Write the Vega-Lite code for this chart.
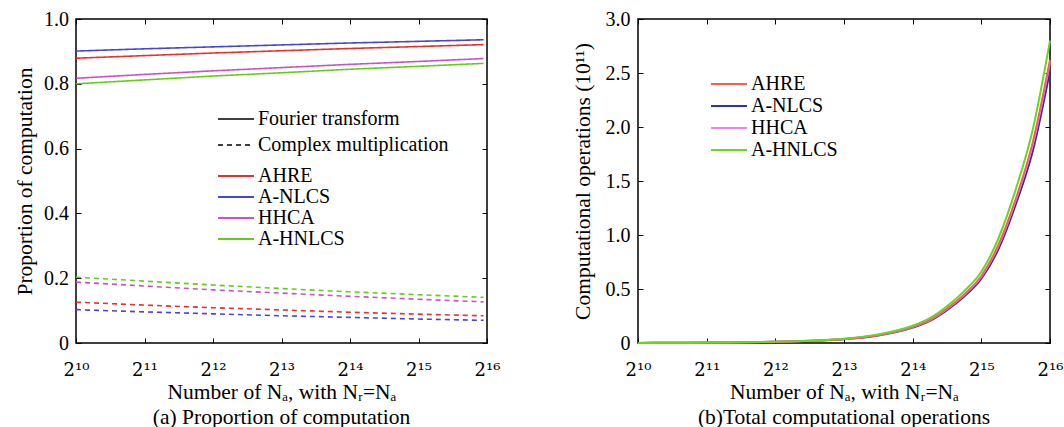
{
  "$schema": "https://vega.github.io/schema/vega-lite/v6.json",
  "padding": {"left": 13, "top": 8, "right": 0, "bottom": 0},
  "config": {
    "font": "Liberation Serif",
    "view": {"stroke": "black", "strokeWidth": 1.5},
    "axis": {"grid": false, "domain": false, "tickColor": "black", "tickSize": -5, "tickWidth": 1, "labelFontSize": 20, "labelColor": "black", "titleFontSize": 21.5, "titleFontWeight": "normal", "titleColor": "black", "labelFont": "Liberation Serif", "titleFont": "Liberation Serif", "labelOverlap": false},
    "legend": {"labelFont": "Liberation Serif", "labelFontSize": 20, "labelColor": "black", "symbolType": "M-1,0H3", "symbolSize": 324, "symbolStrokeWidth": 2, "labelOffset": 21, "padding": 0, "labelLimit": 400},
    "title": {"font": "Liberation Serif", "fontSize": 21.5, "fontWeight": "normal", "color": "black"}
  },
  "datasets": {
    "prop": [
      {"e": 10, "method": "AHRE", "part": "Fourier transform", "p": 0.879},
      {"e": 11, "method": "AHRE", "part": "Fourier transform", "p": 0.887},
      {"e": 12, "method": "AHRE", "part": "Fourier transform", "p": 0.895},
      {"e": 13, "method": "AHRE", "part": "Fourier transform", "p": 0.902},
      {"e": 14, "method": "AHRE", "part": "Fourier transform", "p": 0.909},
      {"e": 15, "method": "AHRE", "part": "Fourier transform", "p": 0.915},
      {"e": 15.95, "method": "AHRE", "part": "Fourier transform", "p": 0.921},
      {"e": 10, "method": "A-NLCS", "part": "Fourier transform", "p": 0.901},
      {"e": 11, "method": "A-NLCS", "part": "Fourier transform", "p": 0.908},
      {"e": 12, "method": "A-NLCS", "part": "Fourier transform", "p": 0.914},
      {"e": 13, "method": "A-NLCS", "part": "Fourier transform", "p": 0.920},
      {"e": 14, "method": "A-NLCS", "part": "Fourier transform", "p": 0.926},
      {"e": 15, "method": "A-NLCS", "part": "Fourier transform", "p": 0.931},
      {"e": 15.95, "method": "A-NLCS", "part": "Fourier transform", "p": 0.936},
      {"e": 10, "method": "HHCA", "part": "Fourier transform", "p": 0.817},
      {"e": 11, "method": "HHCA", "part": "Fourier transform", "p": 0.829},
      {"e": 12, "method": "HHCA", "part": "Fourier transform", "p": 0.840},
      {"e": 13, "method": "HHCA", "part": "Fourier transform", "p": 0.850},
      {"e": 14, "method": "HHCA", "part": "Fourier transform", "p": 0.860},
      {"e": 15, "method": "HHCA", "part": "Fourier transform", "p": 0.869},
      {"e": 15.95, "method": "HHCA", "part": "Fourier transform", "p": 0.878},
      {"e": 10, "method": "A-HNLCS", "part": "Fourier transform", "p": 0.800},
      {"e": 11, "method": "A-HNLCS", "part": "Fourier transform", "p": 0.812},
      {"e": 12, "method": "A-HNLCS", "part": "Fourier transform", "p": 0.824},
      {"e": 13, "method": "A-HNLCS", "part": "Fourier transform", "p": 0.834},
      {"e": 14, "method": "A-HNLCS", "part": "Fourier transform", "p": 0.845},
      {"e": 15, "method": "A-HNLCS", "part": "Fourier transform", "p": 0.854},
      {"e": 15.95, "method": "A-HNLCS", "part": "Fourier transform", "p": 0.863},
      {"e": 10, "method": "AHRE", "part": "Complex multiplication", "p": 0.126},
      {"e": 11, "method": "AHRE", "part": "Complex multiplication", "p": 0.117},
      {"e": 12, "method": "AHRE", "part": "Complex multiplication", "p": 0.109},
      {"e": 13, "method": "AHRE", "part": "Complex multiplication", "p": 0.102},
      {"e": 14, "method": "AHRE", "part": "Complex multiplication", "p": 0.095},
      {"e": 15, "method": "AHRE", "part": "Complex multiplication", "p": 0.089},
      {"e": 15.95, "method": "AHRE", "part": "Complex multiplication", "p": 0.084},
      {"e": 10, "method": "A-NLCS", "part": "Complex multiplication", "p": 0.103},
      {"e": 11, "method": "A-NLCS", "part": "Complex multiplication", "p": 0.096},
      {"e": 12, "method": "A-NLCS", "part": "Complex multiplication", "p": 0.090},
      {"e": 13, "method": "A-NLCS", "part": "Complex multiplication", "p": 0.084},
      {"e": 14, "method": "A-NLCS", "part": "Complex multiplication", "p": 0.079},
      {"e": 15, "method": "A-NLCS", "part": "Complex multiplication", "p": 0.074},
      {"e": 15.95, "method": "A-NLCS", "part": "Complex multiplication", "p": 0.070},
      {"e": 10, "method": "HHCA", "part": "Complex multiplication", "p": 0.188},
      {"e": 11, "method": "HHCA", "part": "Complex multiplication", "p": 0.176},
      {"e": 12, "method": "HHCA", "part": "Complex multiplication", "p": 0.164},
      {"e": 13, "method": "HHCA", "part": "Complex multiplication", "p": 0.154},
      {"e": 14, "method": "HHCA", "part": "Complex multiplication", "p": 0.144},
      {"e": 15, "method": "HHCA", "part": "Complex multiplication", "p": 0.135},
      {"e": 15.95, "method": "HHCA", "part": "Complex multiplication", "p": 0.127},
      {"e": 10, "method": "A-HNLCS", "part": "Complex multiplication", "p": 0.203},
      {"e": 11, "method": "A-HNLCS", "part": "Complex multiplication", "p": 0.191},
      {"e": 12, "method": "A-HNLCS", "part": "Complex multiplication", "p": 0.179},
      {"e": 13, "method": "A-HNLCS", "part": "Complex multiplication", "p": 0.168},
      {"e": 14, "method": "A-HNLCS", "part": "Complex multiplication", "p": 0.158},
      {"e": 15, "method": "A-HNLCS", "part": "Complex multiplication", "p": 0.149},
      {"e": 15.95, "method": "A-HNLCS", "part": "Complex multiplication", "p": 0.141}
    ],
    "ops": [
      {"e": 10, "method": "A-NLCS", "v": 0.001}, {"e": 10.5, "method": "A-NLCS", "v": 0.002}, {"e": 11, "method": "A-NLCS", "v": 0.003}, {"e": 11.5, "method": "A-NLCS", "v": 0.006}, {"e": 12, "method": "A-NLCS", "v": 0.011}, {"e": 12.5, "method": "A-NLCS", "v": 0.019}, {"e": 13, "method": "A-NLCS", "v": 0.035}, {"e": 13.5, "method": "A-NLCS", "v": 0.07}, {"e": 14, "method": "A-NLCS", "v": 0.143}, {"e": 14.25, "method": "A-NLCS", "v": 0.205}, {"e": 14.5, "method": "A-NLCS", "v": 0.305}, {"e": 14.75, "method": "A-NLCS", "v": 0.43}, {"e": 15, "method": "A-NLCS", "v": 0.595}, {"e": 15.25, "method": "A-NLCS", "v": 0.87}, {"e": 15.5, "method": "A-NLCS", "v": 1.28}, {"e": 15.75, "method": "A-NLCS", "v": 1.78}, {"e": 16, "method": "A-NLCS", "v": 2.52},
      {"e": 10, "method": "HHCA", "v": 0.001}, {"e": 10.5, "method": "HHCA", "v": 0.002}, {"e": 11, "method": "HHCA", "v": 0.004}, {"e": 11.5, "method": "HHCA", "v": 0.007}, {"e": 12, "method": "HHCA", "v": 0.011}, {"e": 12.5, "method": "HHCA", "v": 0.02}, {"e": 13, "method": "HHCA", "v": 0.037}, {"e": 13.5, "method": "HHCA", "v": 0.074}, {"e": 14, "method": "HHCA", "v": 0.148}, {"e": 14.25, "method": "HHCA", "v": 0.212}, {"e": 14.5, "method": "HHCA", "v": 0.316}, {"e": 14.75, "method": "HHCA", "v": 0.445}, {"e": 15, "method": "HHCA", "v": 0.615}, {"e": 15.25, "method": "HHCA", "v": 0.9}, {"e": 15.5, "method": "HHCA", "v": 1.32}, {"e": 15.75, "method": "HHCA", "v": 1.84}, {"e": 16, "method": "HHCA", "v": 2.6},
      {"e": 10, "method": "AHRE", "v": 0.001}, {"e": 10.5, "method": "AHRE", "v": 0.002}, {"e": 11, "method": "AHRE", "v": 0.004}, {"e": 11.5, "method": "AHRE", "v": 0.007}, {"e": 12, "method": "AHRE", "v": 0.011}, {"e": 12.5, "method": "AHRE", "v": 0.02}, {"e": 13, "method": "AHRE", "v": 0.037}, {"e": 13.5, "method": "AHRE", "v": 0.075}, {"e": 14, "method": "AHRE", "v": 0.15}, {"e": 14.25, "method": "AHRE", "v": 0.215}, {"e": 14.5, "method": "AHRE", "v": 0.32}, {"e": 14.75, "method": "AHRE", "v": 0.45}, {"e": 15, "method": "AHRE", "v": 0.62}, {"e": 15.25, "method": "AHRE", "v": 0.91}, {"e": 15.5, "method": "AHRE", "v": 1.33}, {"e": 15.75, "method": "AHRE", "v": 1.86}, {"e": 16, "method": "AHRE", "v": 2.62},
      {"e": 10, "method": "A-HNLCS", "v": 0.001}, {"e": 10.5, "method": "A-HNLCS", "v": 0.002}, {"e": 11, "method": "A-HNLCS", "v": 0.004}, {"e": 11.5, "method": "A-HNLCS", "v": 0.007}, {"e": 12, "method": "A-HNLCS", "v": 0.012}, {"e": 12.5, "method": "A-HNLCS", "v": 0.021}, {"e": 13, "method": "A-HNLCS", "v": 0.04}, {"e": 13.5, "method": "A-HNLCS", "v": 0.08}, {"e": 14, "method": "A-HNLCS", "v": 0.16}, {"e": 14.25, "method": "A-HNLCS", "v": 0.23}, {"e": 14.5, "method": "A-HNLCS", "v": 0.34}, {"e": 14.75, "method": "A-HNLCS", "v": 0.48}, {"e": 15, "method": "A-HNLCS", "v": 0.66}, {"e": 15.25, "method": "A-HNLCS", "v": 0.97}, {"e": 15.5, "method": "A-HNLCS", "v": 1.42}, {"e": 15.75, "method": "A-HNLCS", "v": 1.98}, {"e": 16, "method": "A-HNLCS", "v": 2.8}
    ]
  },
  "spacing": 70,
  "resolve": {"scale": {"color": "independent", "strokeDash": "independent"}, "legend": {"color": "independent", "strokeDash": "independent"}},
  "hconcat": [
    {
      "width": 411,
      "height": 324,
      "title": {"text": "(a) Proportion of computation", "orient": "bottom", "offset": 4},
      "data": {"name": "prop"},
      "layer": [
        {
          "mark": {"type": "line", "strokeWidth": 1.6},
          "encoding": {
            "x": {"field": "e", "type": "quantitative", "scale": {"domain": [10, 16], "nice": false},
              "axis": {"values": [10, 11, 12, 13, 14, 15, 16], "labelFlush": false, "labelFont": "DejaVu Serif", "labelFontSize": 18, "labelExpr": "'2' + ['¹⁰','¹¹','¹²','¹³','¹⁴','¹⁵','¹⁶'][datum.value - 10]", "title": "Number of Nₐ, with Nᵣ=Nₐ", "labelPadding": 23, "titlePadding": 2}},
            "y": {"field": "p", "type": "quantitative", "scale": {"domain": [0, 1], "nice": false},
              "axis": {"values": [0, 0.2, 0.4, 0.6, 0.8, 1.0], "labelExpr": "datum.value == 0 ? '0' : format(datum.value, '.1f')", "title": "Proportion of computation", "labelPadding": 12.5, "titlePadding": 7.5}},
            "color": {"field": "method", "type": "nominal", "sort": ["AHRE", "A-NLCS", "HHCA", "A-HNLCS"],
              "scale": {"domain": ["AHRE", "A-NLCS", "HHCA", "A-HNLCS"], "range": ["#e8312f", "#4646d2", "#c951c9", "#66cc1a"]},
              "legend": {"title": null, "orient": "none", "legendX": 141, "legendY": 147, "rowPadding": 1}},
            "strokeDash": {"field": "part", "type": "nominal", "sort": ["Fourier transform", "Complex multiplication"],
              "scale": {"domain": ["Fourier transform", "Complex multiplication"], "range": [[1, 0], [5, 4]]},
              "legend": {"title": null, "orient": "none", "legendX": 141, "legendY": 90, "symbolStrokeColor": "black", "symbolStrokeWidth": 1.5, "rowPadding": 6}}
          }
        },
        {
          "mark": {"type": "point", "opacity": 0},
          "encoding": {
            "x": {"field": "e", "type": "quantitative", "axis": {"orient": "top", "labels": false, "title": null, "values": [10, 11, 12, 13, 14, 15, 16]}},
            "y": {"field": "p", "type": "quantitative", "axis": {"orient": "right", "labels": false, "title": null, "values": [0, 0.2, 0.4, 0.6, 0.8, 1.0]}}
          }
        }
      ],
      "resolve": {"axis": {"x": "independent", "y": "independent"}}
    },
    {
      "width": 412,
      "height": 324,
      "title": {"text": "(b)Total computational operations", "orient": "bottom", "offset": 4},
      "data": {"name": "ops"},
      "layer": [
        {
          "mark": {"type": "line", "strokeWidth": 2, "interpolate": "monotone"},
          "encoding": {
            "x": {"field": "e", "type": "quantitative", "scale": {"domain": [10, 16], "nice": false},
              "axis": {"values": [10, 11, 12, 13, 14, 15, 16], "labelFlush": false, "labelFont": "DejaVu Serif", "labelFontSize": 18, "labelExpr": "'2' + ['¹⁰','¹¹','¹²','¹³','¹⁴','¹⁵','¹⁶'][datum.value - 10]", "title": "Number of Nₐ, with Nᵣ=Nₐ", "labelPadding": 23, "titlePadding": 2}},
            "y": {"field": "v", "type": "quantitative", "scale": {"domain": [0, 3], "nice": false},
              "axis": {"values": [0, 0.5, 1, 1.5, 2, 2.5, 3], "labelExpr": "datum.value == 0 ? '0' : format(datum.value, '.1f')", "title": "Computational operations (10¹¹)", "labelPadding": 13, "titlePadding": 11}},
            "color": {"field": "method", "type": "nominal", "sort": ["AHRE", "A-NLCS", "HHCA", "A-HNLCS"],
              "scale": {"domain": ["AHRE", "A-NLCS", "HHCA", "A-HNLCS"], "range": ["#ff5a5a", "#2e2eb8", "#ee82ee", "#6ad61e"]},
              "legend": {"title": null, "orient": "none", "legendX": 72, "legendY": 55, "rowPadding": 2}},
            "order": {"field": "e"}
          }
        },
        {
          "mark": {"type": "point", "opacity": 0},
          "encoding": {
            "x": {"field": "e", "type": "quantitative", "axis": {"orient": "top", "labels": false, "title": null, "values": [10, 11, 12, 13, 14, 15, 16]}},
            "y": {"field": "v", "type": "quantitative", "axis": {"orient": "right", "labels": false, "title": null, "values": [0, 0.5, 1, 1.5, 2, 2.5, 3]}}
          }
        }
      ],
      "resolve": {"axis": {"x": "independent", "y": "independent"}}
    }
  ]
}
